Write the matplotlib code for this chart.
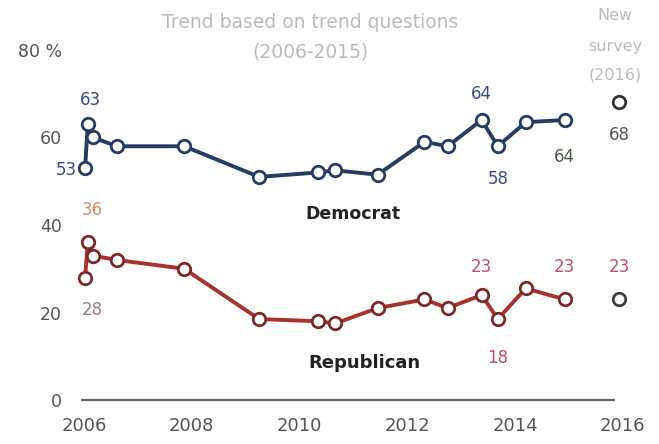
import matplotlib.pyplot as plt

# Trend (2006-2015)
dem_years = [2006.02, 2006.07, 2006.17, 2006.61, 2007.86, 2009.25, 2010.34, 2010.66,
             2011.45, 2012.32, 2012.75, 2013.38, 2013.68, 2014.20, 2014.92]
dem_vals = [53, 63, 60, 58, 58, 51, 52, 52.5, 51.5, 59, 58, 64, 58, 63.5, 64]

rep_years = dem_years
rep_vals = [28, 36, 33, 32, 30, 18.5, 18, 17.5, 21, 23, 21, 24, 18.5, 25.5, 23]

# New survey (2016)
new_year = 2015.93
new_dem = 68
new_rep = 23

x_ticks = [2006, 2008, 2010, 2012, 2014, 2016]
y_ticks = [0, 20, 40, 60, 80]
y_labels = ["0", "20", "40", "60", "80 %"]

DEM = "#263c63"
REP = "#a8322c"

fig = plt.figure(figsize=(6.59, 4.44), dpi=100)
ax = fig.add_axes([70 / 659, 1 - 400 / 444, 570 / 659, 350 / 444])
ax.set_xlim(2005.74, 2016.32)
ax.set_ylim(0, 80)

ax.plot(dem_years, dem_vals, color=DEM, lw=2.8, marker="o", ms=9,
        mfc="white", mec=DEM, mew=2, zorder=3, clip_on=False)
ax.plot(rep_years, rep_vals, color=REP, lw=2.8, marker="o", ms=9,
        mfc="white", mec="#7a2a2a", mew=2, zorder=3, clip_on=False)
ax.plot([new_year], [new_dem], "o", ms=9, mfc="white", mec="#333333", mew=2, clip_on=False)
ax.plot([new_year], [new_rep], "o", ms=9, mfc="white", mec="#4a3a3a", mew=2, clip_on=False)

# data labels
lab = dict(fontsize=12, ha="center", va="center")
ax.text(dem_years[1] + 0.05, 68.5, "63", color="#3b4a7a", **lab)
ax.text(2005.68, 52.5, "53", color="#3b4a7a", **lab)
ax.text(dem_years[11], 70, "64", color="#3b4a7a", **lab)
ax.text(dem_years[12], 50.5, "58", color="#3b4a7a", **lab)
ax.text(dem_years[14], 55.5, "64", color="#4a5a4a", **lab)
ax.text(new_year, 60.5, "68", color="#555555", **lab)

ax.text(dem_years[1] + 0.08, 43.5, "36", color="#d98a5a", **lab)
ax.text(dem_years[1] + 0.08, 20.5, "28", color="#9a7a8a", **lab)
ax.text(rep_years[11], 30.5, "23", color="#c0506a", **lab)
ax.text(rep_years[12], 9.5, "18", color="#c0506a", **lab)
ax.text(rep_years[14], 30.5, "23", color="#c0506a", **lab)
ax.text(new_year, 30.5, "23", color="#c0506a", **lab)

ax.text(2011.0, 42.5, "Democrat", fontsize=12.5, fontweight="bold", color="#222222",
        ha="center", va="center")
ax.text(2011.2, 8.5, "Republican", fontsize=13, fontweight="bold", color="#222222",
        ha="center", va="center")

# axes look
for s in ["top", "right", "left", "bottom"]:
    ax.spines[s].set_visible(False)
ax.hlines(0, 2005.95, 2015.85, color="#666666", lw=1.6, clip_on=False)
ax.set_xticks(x_ticks)
ax.set_xticklabels([str(x) for x in x_ticks], fontsize=13, color="#555555")
ax.set_yticks(y_ticks)
ax.set_yticklabels(y_labels, fontsize=12.5, color="#555555")
ax.tick_params(axis="both", length=0)
ax.tick_params(axis="x", pad=12)
ax.tick_params(axis="y", pad=6)

# headers
fig.text(310 / 659, 1 - 22 / 444, "Trend based on trend questions", fontsize=13.5,
         color="#bbbbbb", ha="center", va="center")
fig.text(310 / 659, 1 - 52 / 444, "(2006-2015)", fontsize=13.5,
         color="#bbbbbb", ha="center", va="center")
fig.text(615 / 659, 1 - 15 / 444, "New", fontsize=11.5, color="#bbbbbb", ha="center", va="center")
fig.text(615 / 659, 1 - 47 / 444, "survey", fontsize=11.5, color="#bbbbbb", ha="center", va="center")
fig.text(615 / 659, 1 - 75 / 444, "(2016)", fontsize=11.5, color="#bbbbbb", ha="center", va="center")

fig.savefig("out.png", dpi=100)
